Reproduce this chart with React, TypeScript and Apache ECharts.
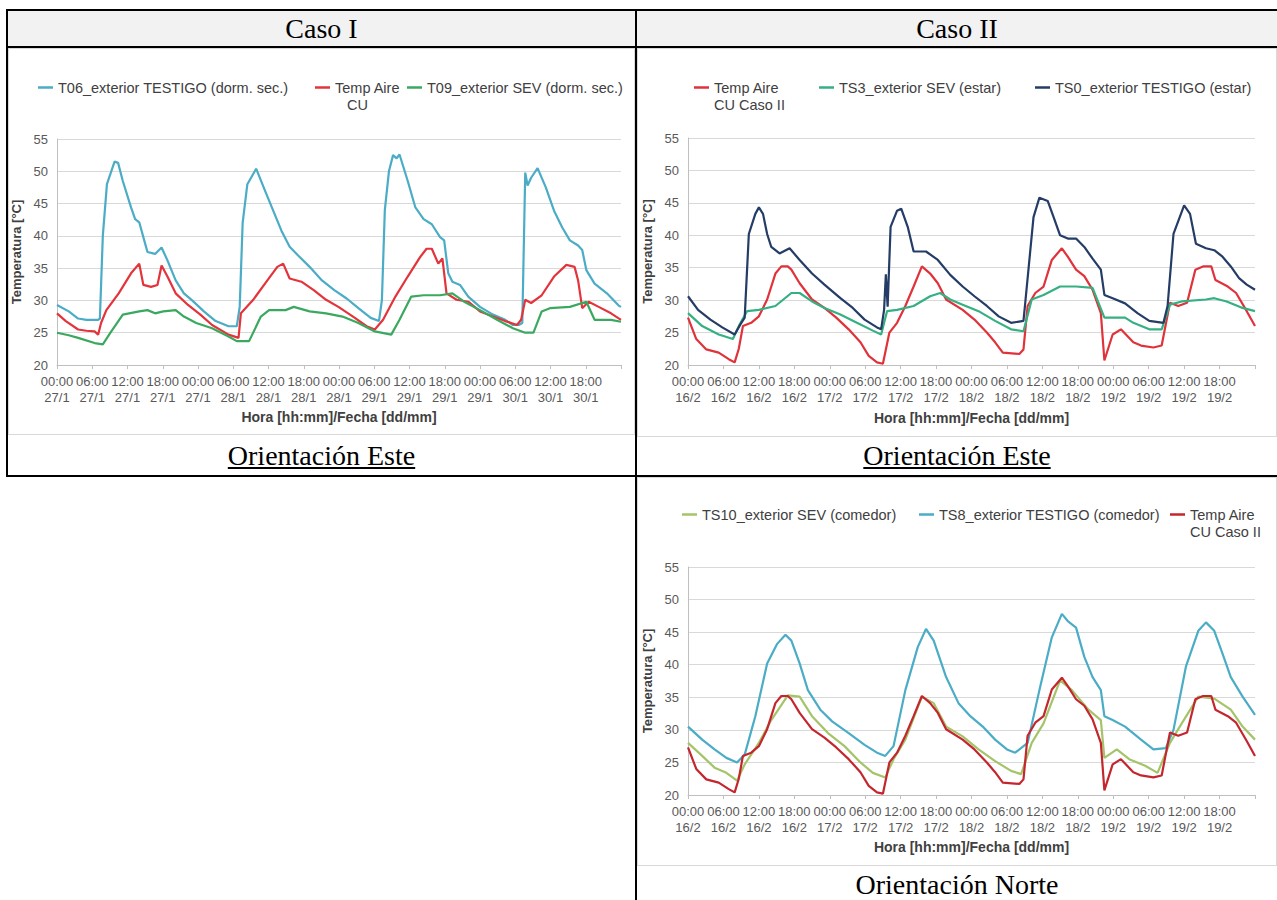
import React, { useEffect, useRef } from "react";
import * as echarts from "echarts";

// ---------- tick labels ----------
const timeLabels = ["00:00","06:00","12:00","18:00","00:00","06:00","12:00","18:00","00:00","06:00","12:00","18:00","00:00","06:00","12:00","18:00"];
const datesCaso1 = ["27/1","27/1","27/1","27/1","27/1","28/1","28/1","28/1","28/1","29/1","29/1","29/1","29/1","30/1","30/1","30/1"];
const datesCaso2 = ["16/2","16/2","16/2","16/2","17/2","17/2","17/2","17/2","18/2","18/2","18/2","18/2","19/2","19/2","19/2","19/2"];

// ---------- Caso I (Orientación Este) ----------
const c1T06H = [0,2,3.6,5,7,7.3,7.8,8.5,9.8,10.4,11.2,12.6,13.3,14,15,15.4,16.7,17.8,18.8,20.2,21.6,23,25,27,29.2,30.6,31.1,31.6,32.4,33.9,35.4,36.8,38.2,39.6,41,43,45.1,47.2,49.3,51.3,53.4,54.8,55.3,55.8,56.5,57.2,57.8,58.3,59.7,61,62.4,63.8,65.2,65.9,66.6,67.3,68.6,70,72,74.2,76.3,77.6,78.6,79.2,79.7,80.1,80.7,81.8,83.2,84.6,86,87.3,88.7,89.4,90.1,91.5,93.6,95.6,96];
const c1T06T = [29.3,28.3,27.2,27,27,27.2,40,48,51.5,51.3,48.5,44.4,42.6,42.1,38.8,37.5,37.2,38.2,36.2,33.1,31.1,30,28.3,26.8,26,26,29,42,48,50.4,47,43.9,40.8,38.3,37,35.2,33.1,31.6,30.3,28.8,27.3,26.8,30,44,50,52.5,52,52.6,48.5,44.4,42.6,41.8,39.8,39.3,34.2,32.9,32.4,30.6,29,27.8,27,26.2,26.2,26.5,49.8,47.8,49,50.5,47.5,43.9,41.3,39.3,38.5,37.8,34.7,32.6,31.1,29.2,29];
const c1CUH = [0,1.5,3.6,5,6.4,7,7.5,8.4,10.5,12.6,14,14.7,16,17.1,17.8,18.8,20.2,22.3,24.4,26.4,29.2,30.9,31.3,33.4,35.4,37.5,38.5,39.6,41.6,43.7,45.8,47.9,50.7,52.7,54.1,55.5,57.6,59.7,61.8,62.9,63.8,64.9,65.6,66.3,68,70,72,74.2,76.3,78.3,79,79.7,80.7,82.5,84.6,86.7,88.1,88.7,89.4,90.5,92.2,94.3,96];
const c1CUT = [28,26.8,25.5,25.3,25.2,24.7,26.5,28.5,31.1,34.2,35.7,32.4,32.1,32.4,35.4,33.7,31.1,29.3,27.8,26.2,24.7,24.2,28,30.1,32.6,35.2,35.7,33.4,32.9,31.6,30.1,29,27.3,26,25.5,27,30.6,33.7,36.7,38,38,35.7,36.5,31.1,30.1,29.8,28.3,27.5,26.8,26.2,27,30.1,29.6,30.8,33.7,35.5,35.2,33.1,28.8,29.8,29,28,27];
const c1T09H = [0,2,3.6,6.4,7.8,9.1,11.2,14,15.4,16.7,18.1,20.2,21.6,23.7,26.4,29.2,30.6,32.7,34.7,36.1,38.9,40.3,43,45.8,48.6,51.3,54.1,56.9,58.3,60.3,62.4,65.2,67.3,69.3,72,74.9,77.6,79.7,81.1,82.5,83.9,87.3,90.1,91.5,94.3,96];
const c1T09T = [25,24.6,24.2,23.4,23.2,25,27.8,28.3,28.5,28,28.3,28.5,27.5,26.5,25.7,24.4,23.7,23.7,27.5,28.5,28.5,29,28.3,28,27.5,26.5,25.2,24.7,27,30.6,30.8,30.8,31.1,29.8,28.5,27,25.7,25,25,28.3,28.8,29,29.8,27,27,26.7];

// ---------- Caso II: Temp Aire CU (shared by both Caso II charts) ----------
const cuCaso2H = [0,1.4,3.1,5.2,6.9,7.9,8.6,9.3,10.7,12,13.4,14.8,15.8,16.9,17.5,18.9,21,23.1,25.1,27.2,29.2,30.6,32,33,34.1,35.4,36.8,38.2,39.6,41,42.3,43.7,46.5,48.5,50.6,52,53.3,56.1,56.8,57.5,58.8,60.2,61.6,63.3,64.3,65.7,67.1,68.5,69.9,70.5,71.9,73.3,75.4,76.7,78.8,80.2,81.6,83,84.5,85.9,87.2,88.6,89.3,91.4,92.8,94.6,96];
const cuCaso2T = [27.3,24,22.4,21.9,20.9,20.4,22.5,26,26.5,27.5,30.1,34.1,35.2,35.2,34.7,32.6,30.1,28.8,27.3,25.5,23.5,21.4,20.4,20.2,25,26.5,29.1,32.1,35.2,34.1,32.6,30.1,28.5,27,25,23.5,21.9,21.7,22.4,29.1,31.1,32.1,36.2,38,36.7,34.7,33.7,31.6,28,20.7,24.7,25.5,23.5,23,22.7,23,29.6,29.1,29.6,34.7,35.2,35.2,33.1,32.1,31.1,28.3,26];

// ---------- Caso II (Orientación Este) ----------
const c2TS3H = [0,2.4,5.2,7.6,8.6,10,12,14.8,17.5,18.9,21,23.1,25.8,28.6,31.3,32.7,33.7,35.4,38.2,41,42.7,44.4,46.5,49.2,52,54.7,56.8,58.2,60.2,63,65.7,68.5,70.5,74,75.4,78.1,80.2,81.6,83.6,87.7,89.1,91.2,93.9,96];
const c2TS3T = [28,26,24.7,24,26,28.3,28.5,29.1,31.1,31.1,29.8,28.8,27.8,26.5,25.3,24.7,28.3,28.5,29.1,30.6,31.1,30.1,29.3,28.3,26.8,25.5,25.2,30.1,30.8,32.1,32.1,31.9,27.3,27.3,26.5,25.5,25.5,29.3,29.8,30.1,30.3,29.8,28.8,28.3];
const c2TS0H = [0,1.7,3.8,5.8,7.9,8.9,9.6,10.3,11.4,12,12.7,13.4,14.1,15.5,17.2,18.9,21,23.1,25.8,27.9,29.9,32,32.7,33.2,33.5,33.8,34.3,35.4,36.1,37.2,38.2,40.3,42.3,44.4,46.5,48.5,50.6,52.6,54.7,56.8,57.1,58.5,59.5,60.9,61.9,63,64.3,65.7,67.1,68.5,69.9,70.5,71.9,74,76.1,78.1,80.5,81.2,82.2,84,85,86,87.7,89.1,90.5,91.9,93.3,94.6,96];
const c2TS0T = [30.6,28.5,27,25.8,24.7,26.3,27.3,40.2,43.3,44.3,43.3,40.2,38.2,37.2,38,36.2,34.1,32.4,30.3,28.8,27,25.8,25.5,28.5,34,29,41.3,43.8,44.1,41.3,37.5,37.5,36.2,33.9,32.1,30.6,29.1,27.5,26.5,26.8,29.6,42.8,45.8,45.3,42.8,40,39.5,39.5,38.2,36.4,34.7,30.8,30.3,29.5,28,26.8,26.5,29.1,40.2,44.6,43.3,38.7,38,37.7,36.7,35.2,33.4,32.4,31.6];

// ---------- Caso II (Orientación Norte) ----------
const c3TS10H = [0,2.4,4.5,6.5,8.3,9.6,12,14.1,16.9,18.9,21,23.7,26.5,29.2,31.3,33.4,34.8,36.8,39.6,41.6,43.7,46.5,49.2,52,54.7,56.4,58.2,60.2,63,65,67.8,69.9,70.5,72.6,74.7,77.4,79.5,81.6,83.6,86.4,89.1,91.9,93.9,96];
const c3TS10T = [28,26,24.2,23.4,22.2,24.7,28,31.5,35.3,35.1,32.1,29.5,27.5,25,23.4,22.7,25.5,28.5,35.1,34.1,30.5,29,27,25.2,23.7,23.2,28,31,37.6,36.1,33.1,31.5,25.7,27,25.5,24.5,23.4,28,31,35.1,34.8,33.1,30.5,28.5];
const c3TS8H = [0,2.4,4.5,6.5,8.3,9.6,11.4,13.4,15.1,16.5,17.5,18.9,20.3,22.4,24.4,27.2,29.9,32,33.4,34.8,36.8,38.9,40.3,41.6,43.7,45.8,47.8,49.9,52,54,55.4,57.5,59.5,61.6,63.3,64.3,65.7,67.1,68.5,69.9,70.5,71.9,74,76.7,78.8,80.9,82.2,84.3,86.4,87.7,89.1,90.5,91.9,93.9,96];
const c3TS8T = [30.5,28.5,27,25.7,25,26.2,32.1,40.2,43.2,44.6,43.7,40.2,36.1,33.1,31.3,29.5,27.7,26.5,26,27.5,36.1,42.7,45.5,43.7,38.1,34.1,32.1,30.5,28.5,27,26.5,28,36.1,44.2,47.8,46.7,45.7,41.2,38.1,36.1,32.1,31.5,30.5,28.5,27,27.2,30,39.7,45.2,46.5,45.2,41.7,38.1,35.1,32.3];

const FONT = "'Liberation Sans', Arial, sans-serif";
const SERIF = "'Liberation Serif', 'Times New Roman', serif";

type SeriesCfg = { name: string; h: number[]; t: number[]; color: string; label: string; left: number; top: number; second?: string; secondPad?: number };

function buildOption(dates: string[], grid: any, series: SeriesCfg[], xNameGap: number) {
  const legends = series.map((s) => {
    const multi = !!s.second;
    return {
      data: [s.name],
      left: s.left,
      top: multi ? s.top - 17 : s.top,
      icon: "rect",
      itemWidth: 15,
      itemHeight: 2.5,
      padding: 0,
      formatter: () => (multi ? `{s| }\n{a|${s.label}}\n{b|${s.second}}` : s.label),
      textStyle: {
        fontFamily: FONT,
        fontSize: 14.5,
        color: "#404040",
        lineHeight: 17,
        rich: {
          s: { fontSize: 14.5, lineHeight: 17 },
          a: { fontFamily: FONT, fontSize: 14.5, color: "#404040", lineHeight: 17 },
          b: { fontFamily: FONT, fontSize: 14.5, color: "#404040", lineHeight: 17, padding: [0, 0, 0, s.secondPad || 0] },
        },
      },
    };
  });
  return {
    animation: false,
    backgroundColor: "#ffffff",
    legend: legends,
    grid: { ...grid, containLabel: false, outerBoundsMode: "none" },
    xAxis: {
      type: "value",
      min: 0,
      max: 96,
      interval: 6,
      name: "Hora [hh:mm]/Fecha [dd/mm]",
      nameLocation: "middle",
      nameGap: xNameGap,
      nameTextStyle: { fontFamily: FONT, fontWeight: "bold", fontSize: 14, color: "#404040" },
      axisLine: { show: true, lineStyle: { color: "#bfbfbf", width: 1 } },
      axisTick: { show: true, length: 4, lineStyle: { color: "#bfbfbf" } },
      splitLine: { show: false },
      axisLabel: {
        margin: 8,
        fontFamily: FONT,
        fontSize: 13,
        lineHeight: 16,
        color: "#595959",
        showMinLabel: true,
        showMaxLabel: true,
        formatter: (v: number) => {
          const i = Math.round(v / 6);
          if (i >= timeLabels.length) return "";
          return timeLabels[i] + "\n" + dates[i];
        },
      },
    },
    yAxis: {
      type: "value",
      min: 20,
      max: 55,
      interval: 5,
      name: "Temperatura [°C]",
      nameLocation: "middle",
      nameGap: 28,
      nameTextStyle: { fontFamily: FONT, fontWeight: "bold", fontSize: 13, color: "#404040" },
      axisLine: { show: true, lineStyle: { color: "#bfbfbf" } },
      axisTick: { show: false },
      axisLabel: { fontFamily: FONT, fontSize: 13, color: "#595959", margin: 9 },
      splitLine: { show: true, lineStyle: { color: "#d9d9d9", width: 1 } },
    },
    series: series.map((s) => ({
      name: s.name,
      type: "line",
      showSymbol: false,
      symbol: "none",
      smooth: false,
      data: s.h.map((h, i) => [h, s.t[i]]),
      lineStyle: { color: s.color, width: 2.2 },
      itemStyle: { color: s.color },
    })),
  };
}

const option1 = buildOption(
  datesCaso1,
  { left: 48, right: 13, top: 90, bottom: 69 },
  [
    { name: "T06_exterior TESTIGO (dorm. sec.)", label: "T06_exterior TESTIGO (dorm. sec.)", h: c1T06H, t: c1T06T, color: "#4bacc6", left: 29, top: 30 },
    { name: "Temp Aire CU", label: "Temp Aire", second: "CU", secondPad: 12, h: c1CUH, t: c1CUT, color: "#e3343c", left: 306, top: 30 },
    { name: "T09_exterior SEV (dorm. sec.)", label: "T09_exterior SEV (dorm. sec.)", h: c1T09H, t: c1T09T, color: "#3aa95f", left: 398, top: 30 },
  ],
  44
);

const option2 = buildOption(
  datesCaso2,
  { left: 50, right: 21, top: 89, bottom: 71 },
  [
    { name: "Temp Aire CU Caso II", label: "Temp Aire", second: "CU Caso II", secondPad: 0, h: cuCaso2H, t: cuCaso2T, color: "#e0323a", left: 56, top: 30 },
    { name: "TS3_exterior SEV (estar)", label: "TS3_exterior SEV (estar)", h: c2TS3H, t: c2TS3T, color: "#35b083", left: 181, top: 30 },
    { name: "TS0_exterior TESTIGO (estar)", label: "TS0_exterior TESTIGO (estar)", h: c2TS0H, t: c2TS0T, color: "#243c66", left: 397, top: 30 },
  ],
  46
);

const option3 = buildOption(
  datesCaso2,
  { left: 50, right: 21, top: 89, bottom: 70 },
  [
    { name: "TS10_exterior SEV (comedor)", label: "TS10_exterior SEV (comedor)", h: c3TS10H, t: c3TS10T, color: "#a5c46a", left: 44, top: 28 },
    { name: "TS8_exterior TESTIGO (comedor)", label: "TS8_exterior TESTIGO (comedor)", h: c3TS8H, t: c3TS8T, color: "#4bacc6", left: 281, top: 28 },
    { name: "Temp Aire CU Caso II", label: "Temp Aire", second: "CU Caso II", secondPad: 0, h: cuCaso2H, t: cuCaso2T, color: "#c4262e", left: 532, top: 28 },
  ],
  45
);

function EChart({ option, style }: { option: any; style: React.CSSProperties }) {
  const ref = useRef<HTMLDivElement>(null);
  useEffect(() => {
    if (!ref.current) return;
    const chart = echarts.init(ref.current, null, { renderer: "svg" });
    chart.setOption(option);
    return () => chart.dispose();
  }, [option]);
  return <div ref={ref} style={style} />;
}

const line = (l: number, t: number, w: number, h: number): React.CSSProperties => ({
  position: "absolute",
  left: l,
  top: t,
  width: w,
  height: h,
  background: "#000",
});

export default function App() {
  const textBase: React.CSSProperties = {
    position: "absolute",
    fontFamily: SERIF,
    fontSize: 28,
    color: "#000",
    textAlign: "center",
    whiteSpace: "nowrap",
  };
  const frame: React.CSSProperties = {
    position: "absolute",
    boxSizing: "border-box",
    border: "1px solid #d9d9d9",
    background: "#fff",
  };
  return (
    <div style={{ position: "absolute", left: 0, top: 0, width: 1277, height: 900, background: "#fff", overflow: "hidden" }}>
      {/* header background */}
      <div style={{ position: "absolute", left: 8, top: 11, width: 1269, height: 35, background: "#f2f2f2" }} />
      <div style={{ ...textBase, left: 8, top: 11, width: 627, height: 35, lineHeight: "35px" }}>Caso I</div>
      <div style={{ ...textBase, left: 637, top: 11, width: 640, height: 35, lineHeight: "35px" }}>Caso II</div>

      {/* charts */}
      <div style={{ ...frame, left: 8, top: 48, width: 627, height: 387 }}>
        <EChart option={option1} style={{ position: "absolute", left: 0, top: 0, width: 625, height: 385 }} />
      </div>
      <div style={{ ...frame, left: 637, top: 48, width: 640, height: 389 }}>
        <EChart option={option2} style={{ position: "absolute", left: 0, top: 0, width: 638, height: 387 }} />
      </div>
      <div style={{ ...frame, left: 637, top: 477, width: 640, height: 389 }}>
        <EChart option={option3} style={{ position: "absolute", left: 0, top: 0, width: 638, height: 387 }} />
      </div>

      {/* captions */}
      <div style={{ ...textBase, left: 8, top: 437, width: 627, height: 38, lineHeight: "38px", textDecoration: "underline" }}>Orientación Este</div>
      <div style={{ ...textBase, left: 637, top: 437, width: 640, height: 38, lineHeight: "38px", textDecoration: "underline" }}>Orientación Este</div>
      <div style={{ ...textBase, left: 637, top: 867, width: 640, height: 36, lineHeight: "36px" }}>Orientación Norte</div>

      {/* table borders */}
      <div style={line(6, 9, 1271, 2)} />
      <div style={line(6, 46, 1271, 2)} />
      <div style={line(6, 475, 1271, 2)} />
      <div style={line(6, 9, 2, 468)} />
      <div style={line(635, 9, 2, 891)} />
    </div>
  );
}
